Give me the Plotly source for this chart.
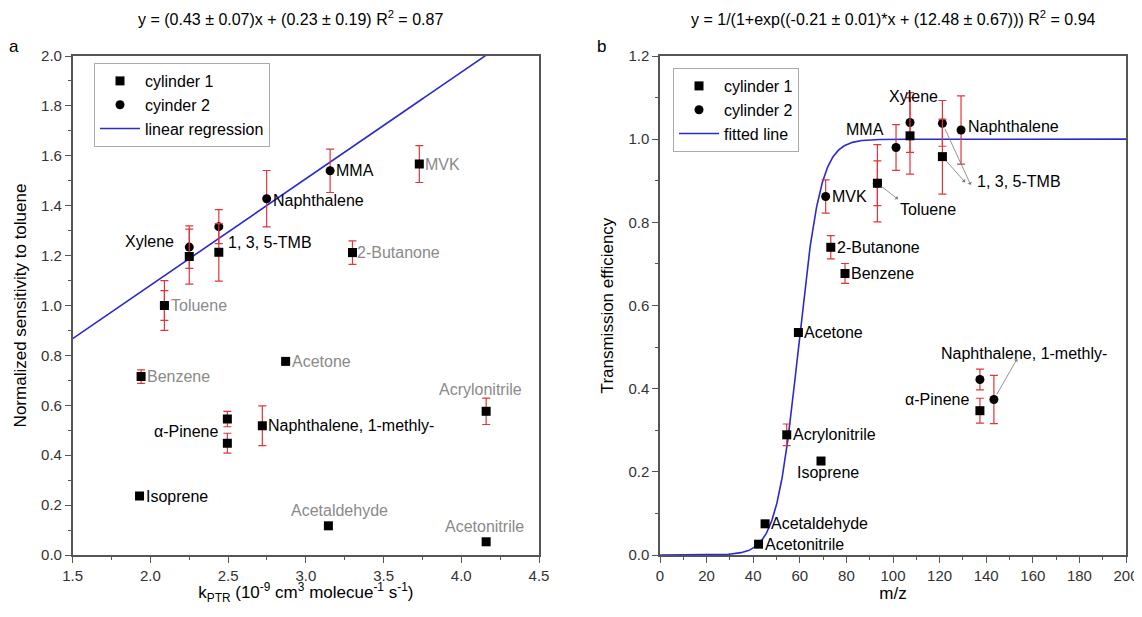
import numpy as np
import plotly.graph_objects as go

# ---------------- Panel a data ----------------
a_c1_names = ["Xylene", "1, 3, 5-TMB", "MVK", "2-Butanone", "Toluene", "Benzene",
              "α-Pinene", "α-Pinene b", "Naphthalene, 1-methly-", "Isoprene", "Acetone",
              "Acrylonitrile", "Acetaldehyde", "Acetonitrile"]
a_c1_x = [2.25, 2.44, 3.73, 3.30, 2.09, 1.94, 2.495, 2.495, 2.72, 1.93, 2.87, 4.16, 3.145, 4.16]
a_c1_y = [1.196, 1.213, 1.567, 1.212, 1.0, 0.715, 0.545, 0.448, 0.518, 0.236, 0.776, 0.576, 0.117, 0.053]
a_c1_err = [0.11, 0.115, 0.074, 0.047, 0.10, 0.027, 0.031, 0.04, 0.08, 0.01, 0.01, 0.053, 0.01, 0.01]

a_c2_names = ["Xylene", "1, 3, 5-TMB", "Naphthalene", "MMA", "Toluene"]
a_c2_x = [2.25, 2.44, 2.748, 3.156, 2.09]
a_c2_y = [1.234, 1.316, 1.428, 1.540, 1.0]
a_c2_err = [0.085, 0.068, 0.113, 0.087, 0.06]

a_slope, a_intercept = 0.427, 0.227

# ---------------- Panel b data ----------------
b_c1_names = ["Xylene", "1, 3, 5-TMB", "Toluene", "2-Butanone", "Benzene", "Acetone",
              "Acrylonitrile", "Isoprene", "Acetaldehyde", "Acetonitrile", "α-Pinene"]
b_c1_x = [107.3, 121.2, 93.3, 73.3, 79.4, 59.4, 54.4, 69.1, 45.1, 42.3, 137.3]
b_c1_y = [1.008, 0.958, 0.894, 0.740, 0.677, 0.535, 0.289, 0.226, 0.075, 0.026, 0.347]
b_c1_err = [0.092, 0.09, 0.093, 0.028, 0.024, 0.006, 0.026, 0.0, 0.006, 0.006, 0.03]

b_c2_names = ["Xylene", "1, 3, 5-TMB", "Naphthalene", "MMA", "MVK", "α-Pinene",
              "Naphthalene, 1-methly-", "Toluene"]
b_c2_x = [107.3, 121.2, 129.2, 101.3, 71.1, 137.3, 143.3, 93.3]
b_c2_y = [1.04, 1.038, 1.022, 0.98, 0.862, 0.422, 0.374, 0.894]
b_c2_err = [0.072, 0.055, 0.082, 0.055, 0.04, 0.025, 0.058, 0.054]

b_k, b_c = -0.21, 12.48

FONT = "Liberation Sans, Arial, sans-serif"
ERR_COLOR = "#e0363a"
GRAY = "#8a8a8a"

# page has an 8px body margin; figure placed at (8, 8)
W, H, OFF = 1134, 597, 8


def PX(p):
    return (p - OFF) / W


def PY(p):
    return 1 - (p - OFF) / H


fig = go.Figure()

lx = np.linspace(1.5, 4.5, 200)
fig.add_trace(go.Scatter(x=lx, y=a_slope * lx + a_intercept, mode="lines",
                         line=dict(color="#2a2ad0", width=1.6), name="linear regression",
                         legend="legend", legendrank=3, xaxis="x", yaxis="y"))
bx = np.linspace(0, 200, 800)
fig.add_trace(go.Scatter(x=bx, y=1 / (1 + np.exp(b_k * bx + b_c)), mode="lines",
                         line=dict(color="#2a2ad0", width=1.6), name="fitted line",
                         legend="legend2", legendrank=3, xaxis="x2", yaxis="y2"))


def err(arr):
    return dict(type="data", array=arr, color=ERR_COLOR, thickness=1.2, width=4)


fig.add_trace(go.Scatter(x=a_c2_x, y=a_c2_y, mode="markers", name="cyinder 2",
                         marker=dict(symbol="circle", size=9, color="black"),
                         error_y=err(a_c2_err), legend="legend", legendrank=2,
                         xaxis="x", yaxis="y"))
fig.add_trace(go.Scatter(x=a_c1_x, y=a_c1_y, mode="markers", name="cylinder 1",
                         marker=dict(symbol="square", size=9, color="black"),
                         error_y=err(a_c1_err), legend="legend", legendrank=1,
                         xaxis="x", yaxis="y"))
fig.add_trace(go.Scatter(x=b_c2_x, y=b_c2_y, mode="markers", name="cylinder 2",
                         marker=dict(symbol="circle", size=9, color="black"),
                         error_y=err(b_c2_err), legend="legend2", legendrank=2,
                         xaxis="x2", yaxis="y2"))
fig.add_trace(go.Scatter(x=b_c1_x, y=b_c1_y, mode="markers", name="cylinder 1",
                         marker=dict(symbol="square", size=9, color="black"),
                         error_y=err(b_c1_err), legend="legend2", legendrank=1,
                         xaxis="x2", yaxis="y2"))

ann = []


def label(text, x, y, xs, ys, anchor="left", color="black", ax="x", ay="y"):
    ann.append(dict(text=text, x=x, y=y, xref=ax, yref=ay, xshift=xs, yshift=ys,
                    xanchor=anchor, yanchor="middle", showarrow=False,
                    font=dict(family=FONT, size=16, color=color)))


a_lab = [
    ("Xylene", a_c2_x[0], a_c2_y[0], -13, 6, "right", "black"),
    ("1, 3, 5-TMB", a_c1_x[1], a_c1_y[1], 7, 10, "left", "black"),
    ("Naphthalene", a_c2_x[2], a_c2_y[2], 4, -2, "left", "black"),
    ("MMA", a_c2_x[3], a_c2_y[3], 4, 0, "left", "black"),
    ("MVK", a_c1_x[2], a_c1_y[2], 4, 0, "left", GRAY),
    ("2-Butanone", a_c1_x[3], a_c1_y[3], 3, 0, "left", GRAY),
    ("Toluene", a_c1_x[4], a_c1_y[4], 5, 0, "left", GRAY),
    ("Benzene", a_c1_x[5], a_c1_y[5], 4, 0, "left", GRAY),
    ("α-Pinene", a_c1_x[6], a_c1_y[6], -6, -12, "right", "black"),
    ("Naphthalene, 1-methly-", a_c1_x[8], a_c1_y[8], 4, 0, "left", "black"),
    ("Isoprene", a_c1_x[9], a_c1_y[9], 4, 0, "left", "black"),
    ("Acetone", a_c1_x[10], a_c1_y[10], 4, 0, "left", GRAY),
    ("Acrylonitrile", a_c1_x[11], a_c1_y[11], -6, 22, "center", GRAY),
    ("Acetaldehyde", a_c1_x[12], a_c1_y[12], 11, 15, "center", GRAY),
    ("Acetonitrile", a_c1_x[13], a_c1_y[13], -2, 15, "center", GRAY),
]
for t, x, y, xs, ys, anc, col in a_lab:
    label(t, x, y, xs, ys, anc, col, "x", "y")

b_lab = [
    ("MMA", b_c2_x[3], b_c2_y[3], -31, 18, "center"),
    ("Xylene", b_c2_x[0], b_c2_y[0], 3, 26, "center"),
    ("Naphthalene", b_c2_x[2], b_c2_y[2], 5, 4, "left"),
    ("1, 3, 5-TMB", b_c2_x[1], b_c2_y[1], 33, -58, "left"),
    ("Toluene", b_c1_x[2], b_c1_y[2], 21, -26, "left"),
    ("MVK", b_c2_x[4], b_c2_y[4], 4, 0, "left"),
    ("2-Butanone", b_c1_x[3], b_c1_y[3], 4, 0, "left"),
    ("Benzene", b_c1_x[4], b_c1_y[4], 4, 0, "left"),
    ("Acetone", b_c1_x[5], b_c1_y[5], 4, 0, "left"),
    ("Acrylonitrile", b_c1_x[6], b_c1_y[6], 4, 0, "left"),
    ("Isoprene", b_c1_x[7], b_c1_y[7], -26, -11, "left"),
    ("Acetaldehyde", b_c1_x[8], b_c1_y[8], 4, 0, "left"),
    ("Acetonitrile", b_c1_x[9], b_c1_y[9], 4, 0, "left"),
    ("Naphthalene, 1-methly-", b_c2_x[6], b_c2_y[6], 30, 46, "center"),
    ("α-Pinene", b_c1_x[10], b_c1_y[10], -8, 11, "right"),
]
for t, x, y, xs, ys, anc in b_lab:
    label(t, x, y, xs, ys, anc, "black", "x2", "y2")

arrows = [
    (b_c2_x[1], b_c2_y[1], 29, 63),
    (b_c1_x[1], b_c1_y[1], 24, 27),
    (b_c1_x[2], b_c1_y[2], 22, 17),
    (b_c2_x[6], b_c2_y[6], 24, -42),
]
for x, y, dx, dy in arrows:
    ann.append(dict(x=x, y=y, xref="x2", yref="y2", ax=dx, ay=dy, text="",
                    showarrow=True, arrowside="start", arrowhead=2, arrowsize=1.2,
                    arrowwidth=0.8, arrowcolor="#777", standoff=6, startstandoff=0))

ann.append(dict(text="y = (0.43 ± 0.07)x + (0.23 ± 0.19) R<sup>2</sup> = 0.87",
                x=PX(290), y=PY(18), xref="paper", yref="paper", showarrow=False,
                xanchor="center", yanchor="middle",
                font=dict(family=FONT, size=16, color="black")))
ann.append(dict(text="y = 1/(1+exp((-0.21 ± 0.01)*x + (12.48 ± 0.67))) R<sup>2</sup> = 0.94",
                x=PX(893), y=PY(18), xref="paper", yref="paper", showarrow=False,
                xanchor="center", yanchor="middle",
                font=dict(family=FONT, size=16, color="black")))
ann.append(dict(text="a", x=PX(14), y=PY(46), xref="paper", yref="paper",
                xanchor="center", yanchor="middle",
                showarrow=False, font=dict(family=FONT, size=17, color="black")))
ann.append(dict(text="b", x=PX(601), y=PY(46), xref="paper", yref="paper",
                xanchor="center", yanchor="middle",
                showarrow=False, font=dict(family=FONT, size=17, color="black")))

ax_common = dict(showline=True, linecolor="#555", linewidth=1.5, mirror=True, ticks="outside",
                 ticklen=6, tickwidth=1.2, tickcolor="#555", showgrid=False, zeroline=False,
                 automargin=False, ticklabeloverflow="allow",
                 tickfont=dict(family=FONT, size=15, color="#333"))
ydom = [PY(555), PY(56)]
TFONT = dict(family=FONT, size=17, color="black")

fig.update_layout(
    width=W, height=H, margin=dict(l=0, r=0, t=0, b=0, autoexpand=False),
    paper_bgcolor="white", plot_bgcolor="white", font=dict(family=FONT),
    xaxis=dict(domain=[PX(72.7), PX(539)], range=[1.5, 4.5], dtick=0.5,
               tickformat=".1f", minor=dict(dtick=0.25, ticks="outside", ticklen=3, tickcolor="#555"),
               title=dict(text="k<sub>PTR</sub> (10<sup>-9</sup> cm<sup>3</sup> molecue<sup>-1</sup> s<sup>-1</sup>)",
                          font=TFONT, standoff=3),
               **ax_common),
    yaxis=dict(domain=ydom, range=[0, 2.0], dtick=0.2, tickformat=".1f",
               minor=dict(dtick=0.1, ticks="outside", ticklen=3, tickcolor="#555"),
               title=dict(text="Normalized sensitivity to toluene", font=TFONT, standoff=10),
               **ax_common),
    xaxis2=dict(domain=[PX(660), PX(1126)], range=[0, 200], dtick=20, anchor="y2",
                minor=dict(dtick=10, ticks="outside", ticklen=3, tickcolor="#555"),
                title=dict(text="m/z", font=TFONT, standoff=3),
                **ax_common),
    yaxis2=dict(domain=ydom, range=[0, 1.2], dtick=0.2, tickformat=".1f", anchor="x2",
                minor=dict(dtick=0.1, ticks="outside", ticklen=3, tickcolor="#555"),
                title=dict(text="Transmission efficiency", font=TFONT, standoff=10),
                **ax_common),
    legend=dict(x=PX(94), y=PY(63), xanchor="left", yanchor="top",
                bordercolor="#aaa", borderwidth=1, bgcolor="white",
                font=dict(family=FONT, size=16, color="black"), tracegroupgap=0,
                itemwidth=40),
    legend2=dict(x=PX(673), y=PY(68), xanchor="left", yanchor="top",
                 bordercolor="#aaa", borderwidth=1, bgcolor="white",
                 font=dict(family=FONT, size=16, color="black"), tracegroupgap=0,
                 itemwidth=40),
    annotations=ann,
    showlegend=True,
)

fig.write_html("out.html")
